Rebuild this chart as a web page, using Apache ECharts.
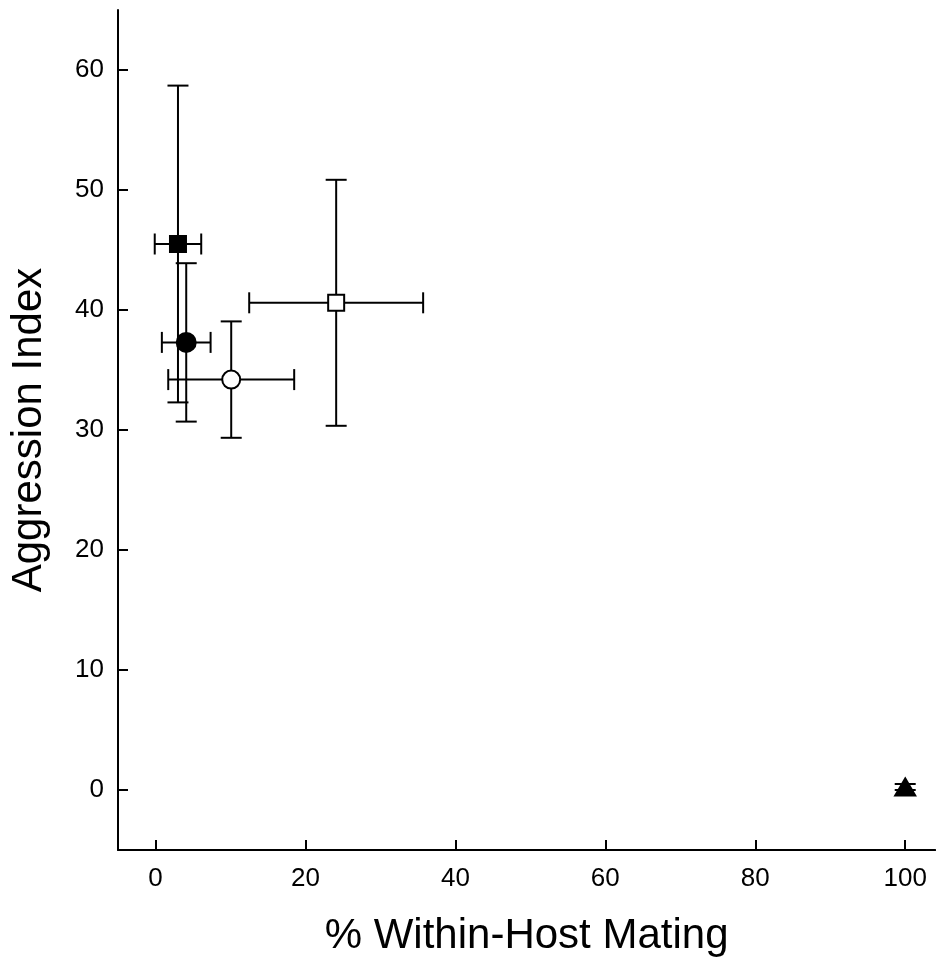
<!DOCTYPE html>
<html>
<head>
<meta charset="utf-8">
<script src="https://cdn.jsdelivr.net/npm/echarts@6/dist/echarts.min.js"></script>
<style>html,body{margin:0;padding:0;background:#fff;}#c{width:936px;height:965px;}</style>
</head>
<body>
<div id="c"></div>
<script>
// Data
const groups = ['A', 'B', 'C', 'D', 'E'];
const xValues = [3.0, 4.1, 10.1, 24.1, 100];
const yValues = [45.5, 37.3, 34.2, 40.6, 0.25];
const xErrors = [3.1, 3.25, 8.4, 11.6, 0];
const yErrors = [13.2, 6.6, 4.85, 10.25, 0.25];
const xTicks = [0, 20, 40, 60, 80, 100];
const yTicks = [0, 10, 20, 30, 40, 50, 60];

// Marker styles (kept separate from data)
const markerSymbols = ['rect', 'circle', 'circle', 'rect', 'triangle'];
const markerFills = ['#000', '#000', '#fff', '#fff', '#000'];
const markerSizes = [16, 19, 18, 16, [20, 17]];

const FONT = '"Liberation Sans", Arial, sans-serif';
const chart = echarts.init(document.getElementById('c'), null, {renderer: 'canvas'});

const errData = xValues.map((x, i) => [x, yValues[i], xErrors[i], yErrors[i]]);
const capHalf = 10.5;

const option = {
  backgroundColor: '#fff',
  animation: false,
  grid: {left: 115.5, top: 10, width: 819.7, height: 840, containLabel: false},
  xAxis: {
    type: 'value', min: -5, max: 104,
    name: '% Within-Host Mating', nameLocation: 'middle', nameGap: 65,
    nameTextStyle: {fontSize: 42, color: '#000', fontFamily: FONT},
    axisLine: {show: true, onZero: false, lineStyle: {color: '#000', width: 2}},
    axisTick: {show: true, inside: true, length: 10, lineStyle: {color: '#000', width: 2}, customValues: xTicks},
    axisLabel: {show: true, fontSize: 26, color: '#000', fontFamily: FONT, margin: 16, customValues: xTicks},
    splitLine: {show: false}
  },
  yAxis: {
    type: 'value', min: -5, max: 65,
    name: 'Aggression Index', nameLocation: 'middle', nameGap: 68, nameRotate: 90,
    nameTextStyle: {fontSize: 42, color: '#000', fontFamily: FONT},
    axisLine: {show: true, onZero: false, lineStyle: {color: '#000', width: 2}},
    axisTick: {show: true, inside: true, length: 10, lineStyle: {color: '#000', width: 2}, customValues: yTicks},
    axisLabel: {show: true, fontSize: 26, color: '#000', fontFamily: FONT, margin: 14, customValues: yTicks},
    splitLine: {show: false}
  },
  series: [
    {
      type: 'custom',
      data: errData,
      encode: {x: 0, y: 1},
      z: 1,
      renderItem: function (params, api) {
        const x = api.value(0), y = api.value(1), xe = api.value(2), ye = api.value(3);
        const children = [];
        const style = {stroke: '#000', lineWidth: 2, fill: null};
        if (ye > 0) {
          const top = api.coord([x, y + ye]);
          const bot = api.coord([x, y - ye]);
          children.push({type: 'line', shape: {x1: top[0], y1: top[1], x2: bot[0], y2: bot[1]}, style: style});
          children.push({type: 'line', shape: {x1: top[0] - capHalf, y1: top[1], x2: top[0] + capHalf, y2: top[1]}, style: style});
          children.push({type: 'line', shape: {x1: bot[0] - capHalf, y1: bot[1], x2: bot[0] + capHalf, y2: bot[1]}, style: style});
        }
        if (xe > 0) {
          const l = api.coord([x - xe, y]);
          const r = api.coord([x + xe, y]);
          children.push({type: 'line', shape: {x1: l[0], y1: l[1], x2: r[0], y2: r[1]}, style: style});
          children.push({type: 'line', shape: {x1: l[0], y1: l[1] - capHalf, x2: l[0], y2: l[1] + capHalf}, style: style});
          children.push({type: 'line', shape: {x1: r[0], y1: r[1] - capHalf, x2: r[0], y2: r[1] + capHalf}, style: style});
        }
        return {type: 'group', children: children};
      }
    },
    {
      type: 'scatter',
      z: 5,
      data: xValues.map((x, i) => ({
        value: [x, yValues[i]],
        symbol: markerSymbols[i],
        symbolSize: markerSizes[i],
        itemStyle: {color: markerFills[i], borderColor: '#000', borderWidth: 2, opacity: 1}
      }))
    }
  ]
};
chart.setOption(option);
</script>
</body>
</html>
